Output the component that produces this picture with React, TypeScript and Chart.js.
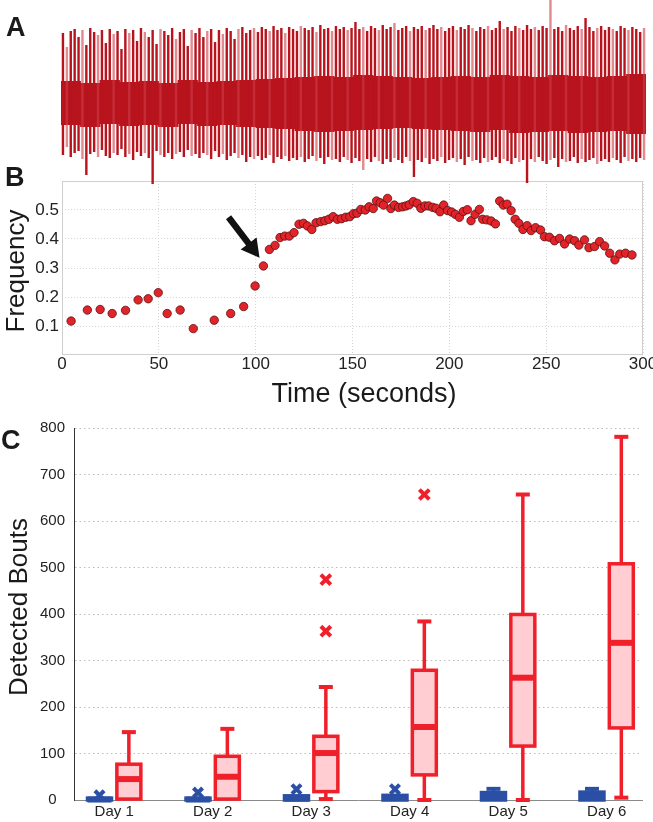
import React, { useEffect, useRef } from "react";
import { Chart, registerables } from "chart.js";
Chart.register(...registerables);

const FONT = "'Liberation Sans', Arial, Helvetica, sans-serif";

// ---------- Panel A: raw trace (spike extents and baseline band, arbitrary units) ----------
const spikeTop = [
  74, 60, 76, 78, 70, 77, 62, 79, 75, 72,
  77, 64, 78, 73, 76, 58, 78, 74, 77, 66,
  79, 75, 70, 77, 63, 78, 76, 72, 79, 68,
  75, 78, 61, 77, 74, 79, 70, 76, 78, 65,
  77, 73, 79, 76, 68, 78, 80, 74, 77, 79,
  75, 80, 78, 76, 81, 77, 79, 74, 80, 78,
  76, 81, 79, 77, 80, 75, 82, 78, 79, 76,
  81, 78, 80, 77, 79, 85, 78, 80, 76, 81,
  79, 77, 82, 78, 80, 84, 77, 79, 81, 76,
  80, 78, 81, 77, 79, 82, 78, 80, 76, 79,
  81, 77, 80, 78, 82, 79, 76, 80, 78, 81,
  77, 79, 86, 78, 80, 76, 81, 79, 77, 82,
  78, 80, 77, 81, 79, 107, 78, 80, 76, 82,
  79, 77, 81, 78, 89, 80, 76, 79, 81, 77,
  80, 78, 76, 81, 79, 77, 80, 78, 75, 79,
];
const spikeBottom = [
  -48, -40, -50, -46, -44, -52, -68, -47, -45, -50,
  -43, -49, -51, -46, -48, -42, -50, -47, -53, -45,
  -49, -46, -51, -77, -44, -48, -50, -46, -52, -47,
  -45, -50, -43, -49, -47, -51, -46, -48, -52, -44,
  -50, -47, -53, -49, -46, -51, -48, -55, -50, -52,
  -49, -53, -51, -48, -56, -50, -52, -49, -54, -51,
  -53, -50, -55, -52, -49, -54, -51, -57, -50, -53,
  -52, -55, -50, -53, -56, -51, -54, -63, -52, -55,
  -50, -54, -57, -52, -55, -51, -53, -56, -50, -54,
  -70, -53, -55, -51, -57, -52, -54, -50, -56, -53,
  -51, -55, -52, -58, -50, -54, -53, -56, -51, -55,
  -53, -50, -56, -52, -54, -57, -51, -55, -53, -76,
  -52, -55, -50, -54, -57, -53, -51, -60, -52, -55,
  -54, -50, -56, -52, -55, -53, -51, -57, -54, -52,
  -55, -51, -53, -56, -50, -54, -52, -55, -51, -53,
];
const coreTop = [
  26, 24, 27, 25, 26, 24, 27, 25, 26, 27,
  28, 29, 30, 31, 30, 32, 31, 30, 29, 30,
  31, 30, 32, 31, 30, 32, 31, 30, 31, 33,
];
const coreBottom = [
  -18, -20, -17, -19, -18, -20, -17, -19, -18, -20,
  -21, -22, -24, -25, -24, -23, -22, -21, -22, -23,
  -24, -25, -23, -26, -25, -24, -26, -25, -24, -27,
];
const traceMin = -83;
const traceMax = 107;

// ---------- Panel B: burst frequency over time ----------
const timeSec = [
  4.7, 13.1, 19.7, 25.9, 32.8, 39.3, 44.5, 49.7, 54.3, 61.0,
  67.8, 78.6, 87.1, 93.8, 99.7, 104.0, 107.1, 110.0, 112.6, 115.0,
  117.4, 119.8, 122.4, 124.7, 126.7, 129.0, 131.2, 133.6, 135.7, 137.8,
  140.0, 142.2, 144.3, 146.5, 148.6, 150.5, 152.3, 154.3, 156.6, 158.6,
  160.7, 162.4, 164.3, 166.0, 168.1, 169.8, 171.6, 173.8, 175.9, 177.6,
  179.3, 181.4, 183.4, 185.3, 187.4, 189.3, 191.4, 193.1, 195.2, 197.1,
  199.1, 201.2, 203.1, 205.2, 207.2, 209.3, 211.2, 213.3, 215.5, 217.2,
  219.3, 221.6, 223.8, 226.0, 227.9, 229.8, 231.9, 234.0, 235.9, 238.0,
  240.2, 242.2, 244.5, 247.1, 249.1, 251.7, 254.3, 256.9, 259.5, 262.1,
  264.7, 266.9, 269.8, 272.1, 275.0, 277.6, 280.2, 282.8, 285.5, 288.0,
  291.0, 294.3,
];
const frequency = [
  0.117, 0.155, 0.157, 0.143, 0.154, 0.190, 0.194, 0.215, 0.143, 0.155,
  0.091, 0.120, 0.143, 0.167, 0.238, 0.307, 0.364, 0.378, 0.405, 0.410,
  0.410, 0.422, 0.451, 0.454, 0.445, 0.433, 0.456, 0.460, 0.463, 0.468,
  0.477, 0.468, 0.470, 0.475, 0.477, 0.487, 0.489, 0.502, 0.500, 0.511,
  0.505, 0.531, 0.525, 0.517, 0.540, 0.505, 0.517, 0.509, 0.511, 0.514,
  0.518, 0.529, 0.523, 0.506, 0.514, 0.514, 0.509, 0.506, 0.494, 0.517,
  0.498, 0.493, 0.485, 0.475, 0.495, 0.501, 0.463, 0.485, 0.502, 0.468,
  0.466, 0.462, 0.452, 0.531, 0.517, 0.520, 0.498, 0.468, 0.454, 0.433,
  0.446, 0.429, 0.439, 0.431, 0.408, 0.406, 0.394, 0.402, 0.383, 0.400,
  0.394, 0.379, 0.397, 0.370, 0.374, 0.391, 0.376, 0.351, 0.328, 0.348,
  0.351, 0.345,
];
const timeTicks = [0, 50, 100, 150, 200, 250, 300];
const freqTicks = [0.1, 0.2, 0.3, 0.4, 0.5];
const arrowFrom = [86, 0.475];
const arrowTo = [102, 0.335];

// ---------- Panel C: detected bouts per day ----------
const days = ["Day 1", "Day 2", "Day 3", "Day 4", "Day 5", "Day 6"];
const dayPos = [1, 2, 3, 4, 5, 6];
const redMin = [2, 2, 2, 0, 0, 5];
const redQ1 = [2, 2, 18, 54, 116, 155];
const redMed = [45, 50, 101, 157, 263, 338];
const redQ3 = [77, 94, 137, 279, 399, 508];
const redMax = [146, 153, 243, 384, 657, 781];
const redOutlierDay = [3, 3, 4];
const redOutlierVal = [363, 474, 657];
const blueMin = [0, 0, 0, 0, 0, 0];
const blueQ1 = [0, 0, 0, 0, 0, 0];
const blueMed = [1, 1, 3, 4, 5, 5];
const blueQ3 = [4, 4, 9, 10, 16, 17];
const blueMax = [4, 4, 9, 10, 24, 24];
const blueOutlierDay = [1, 2, 3, 4];
const blueOutlierVal = [10, 16, 23, 23];
const boutTicks = [0, 100, 200, 300, 400, 500, 600, 700, 800];

const TRACE_RED = "#b8141e";
const TRACE_LIGHT = "rgba(205, 60, 70, 0.6)";
const BOX_RED = "#f0202b";
const BOX_PINK = "#ffcdd2";
const BOX_BLUE = "#2a4fa5";
const SIDE = 0.149; // horizontal offset of the two groups around each day

const frameB = {
  id: "frameB",
  beforeDatasetsDraw(chart: any) {
    const { ctx, chartArea: a } = chart;
    ctx.save();
    ctx.strokeStyle = "#cfcfcf";
    ctx.lineWidth = 1;
    ctx.strokeRect(a.left + 0.5, a.top + 0.5, a.right - a.left - 1, a.bottom - a.top - 1);
    ctx.restore();
  },
};

const arrowB = {
  id: "arrowB",
  afterDatasetsDraw(chart: any) {
    const { ctx } = chart;
    const xs = chart.scales.x;
    const ys = chart.scales.y;
    const x1 = xs.getPixelForValue(arrowFrom[0]);
    const y1 = ys.getPixelForValue(arrowFrom[1]);
    const x2 = xs.getPixelForValue(arrowTo[0]);
    const y2 = ys.getPixelForValue(arrowTo[1]);
    const ang = Math.atan2(y2 - y1, x2 - x1);
    const headLen = 18;
    const headHalf = 10;
    const bx = x2 - headLen * Math.cos(ang);
    const by = y2 - headLen * Math.sin(ang);
    ctx.save();
    ctx.strokeStyle = "#111";
    ctx.fillStyle = "#111";
    ctx.lineWidth = 6.5;
    ctx.beginPath();
    ctx.moveTo(x1, y1);
    ctx.lineTo(bx + 2 * Math.cos(ang), by + 2 * Math.sin(ang));
    ctx.stroke();
    ctx.beginPath();
    ctx.moveTo(x2, y2);
    ctx.lineTo(bx + headHalf * Math.sin(ang), by - headHalf * Math.cos(ang));
    ctx.lineTo(bx - headHalf * Math.sin(ang), by + headHalf * Math.cos(ang));
    ctx.closePath();
    ctx.fill();
    ctx.restore();
  },
};

function drawBoxes(
  chart: any,
  offset: number,
  mins: number[],
  q1s: number[],
  meds: number[],
  q3s: number[],
  maxs: number[],
  stroke: string,
  fill: string,
  medColor: string
) {
  const { ctx } = chart;
  const xs = chart.scales.x;
  const ys = chart.scales.y;
  const half = 12;
  const cap = 7;
  ctx.save();
  ctx.strokeStyle = stroke;
  ctx.lineCap = "butt";
  dayPos.forEach((d, i) => {
    const cx = xs.getPixelForValue(d + offset);
    const yMin = ys.getPixelForValue(mins[i]);
    const yQ1 = ys.getPixelForValue(q1s[i]);
    const yMed = ys.getPixelForValue(meds[i]);
    const yQ3 = ys.getPixelForValue(q3s[i]);
    const yMax = ys.getPixelForValue(maxs[i]);
    ctx.lineWidth = 3.5;
    if (maxs[i] > q3s[i]) {
      ctx.beginPath();
      ctx.moveTo(cx, yQ3);
      ctx.lineTo(cx, yMax);
      ctx.stroke();
      ctx.lineWidth = 4;
      ctx.beginPath();
      ctx.moveTo(cx - cap, yMax);
      ctx.lineTo(cx + cap, yMax);
      ctx.stroke();
    }
    ctx.lineWidth = 3.5;
    if (mins[i] < q1s[i]) {
      ctx.beginPath();
      ctx.moveTo(cx, yQ1);
      ctx.lineTo(cx, yMin);
      ctx.stroke();
      ctx.lineWidth = 4;
      ctx.beginPath();
      ctx.moveTo(cx - cap, yMin);
      ctx.lineTo(cx + cap, yMin);
      ctx.stroke();
    }
    ctx.lineWidth = 3.5;
    ctx.fillStyle = fill;
    const top = Math.min(yQ3, yQ1 - 1);
    ctx.fillRect(cx - half, top, half * 2, yQ1 - top);
    ctx.strokeRect(cx - half, top, half * 2, yQ1 - top);
    ctx.strokeStyle = medColor;
    ctx.lineWidth = 6;
    ctx.beginPath();
    ctx.moveTo(cx - half, yMed);
    ctx.lineTo(cx + half, yMed);
    ctx.stroke();
    ctx.strokeStyle = stroke;
  });
  ctx.restore();
}

const boxPlugin = {
  id: "boxPlugin",
  beforeDatasetsDraw(chart: any) {
    drawBoxes(chart, -SIDE, blueMin, blueQ1, blueMed, blueQ3, blueMax, BOX_BLUE, BOX_BLUE, BOX_BLUE);
    drawBoxes(chart, SIDE, redMin, redQ1, redMed, redQ3, redMax, BOX_RED, BOX_PINK, BOX_RED);
  },
};

export default function App() {
  const refA = useRef<HTMLCanvasElement>(null);
  const refB = useRef<HTMLCanvasElement>(null);
  const refC = useRef<HTMLCanvasElement>(null);

  useEffect(() => {
    const charts: Chart[] = [];

    // Panel A
    charts.push(
      new Chart(refA.current as HTMLCanvasElement, {
        type: "bar",
        data: {
          labels: spikeTop.map((_, i) => String(i)),
          datasets: [
            {
              data: spikeTop.map((t, i) => [spikeBottom[i], t]) as any,
              backgroundColor: spikeTop.map((_, i) => (i % 4 === 1 ? TRACE_LIGHT : TRACE_RED)),
              barPercentage: 0.62,
              categoryPercentage: 1,
              grouped: false,
              xAxisID: "x",
            } as any,
            {
              data: coreTop.map((t, i) => [coreBottom[i], t]) as any,
              backgroundColor: TRACE_RED,
              barPercentage: 1.04,
              categoryPercentage: 1,
              grouped: false,
              xAxisID: "x2",
            } as any,
          ],
        },
        options: {
          animation: false,
          responsive: false,
          maintainAspectRatio: false,
          layout: { padding: { left: 61, right: 7, top: 0, bottom: 0 } },
          plugins: { legend: { display: false }, tooltip: { enabled: false } },
          scales: {
            x: { type: "category", display: false },
            x2: { type: "category", display: false, labels: coreTop.map((_, i) => String(i)) } as any,
            y: { display: false, min: traceMin, max: traceMax },
          },
        },
      })
    );

    // Panel B
    charts.push(
      new Chart(refB.current as HTMLCanvasElement, {
        type: "scatter",
        data: {
          datasets: [
            {
              data: timeSec.map((t, i) => ({ x: t, y: frequency[i] })),
              backgroundColor: "#e3232a",
              borderColor: "#5a1212",
              borderWidth: 0.8,
              pointRadius: 4.2,
            },
          ],
        },
        options: {
          animation: false,
          responsive: false,
          maintainAspectRatio: false,
          layout: { padding: { left: 0, right: 10, top: 16, bottom: 0 } },
          plugins: { legend: { display: false }, tooltip: { enabled: false } },
          scales: {
            x: {
              type: "linear",
              min: 0,
              max: 300,
              afterBuildTicks: (s: any) => {
                s.ticks = timeTicks.map((v) => ({ value: v }));
              },
              afterFit: (s: any) => {
                s.height = 35;
                s.paddingLeft = 0;
                s.paddingRight = 0;
              },
              grid: { color: "#d6d6d6", lineWidth: 1, drawTicks: false },
              border: { display: false, dash: [1, 2] },
              ticks: {
                font: { family: FONT, size: 17, lineHeight: 1 },
                color: "#222",
                padding: 1,
                maxRotation: 0,
                autoSkip: false,
              },
            },
            y: {
              type: "linear",
              min: 0,
              max: 0.6,
              afterBuildTicks: (s: any) => {
                s.ticks = freqTicks.map((v) => ({ value: v }));
              },
              afterFit: (s: any) => {
                s.width = 62;
                s.paddingTop = 0;
                s.paddingBottom = 0;
              },
              grid: { color: "#d6d6d6", lineWidth: 1, drawTicks: false },
              border: { display: false, dash: [1, 2] },
              ticks: {
                font: { family: FONT, size: 17, lineHeight: 1 },
                color: "#222",
                padding: 3,
                callback: (v: any) => Number(v).toFixed(1),
              },
            },
          },
        },
        plugins: [frameB, arrowB],
      })
    );

    // Panel C
    charts.push(
      new Chart(refC.current as HTMLCanvasElement, {
        type: "scatter",
        data: {
          datasets: [
            {
              data: redOutlierDay.map((d, i) => ({ x: d + SIDE, y: redOutlierVal[i] })),
              pointStyle: "crossRot",
              pointRadius: 7,
              borderWidth: 4,
              borderColor: BOX_RED,
              backgroundColor: BOX_RED,
            },
            {
              data: blueOutlierDay.map((d, i) => ({ x: d - SIDE, y: blueOutlierVal[i] })),
              pointStyle: "crossRot",
              pointRadius: 6.5,
              borderWidth: 4,
              borderColor: BOX_BLUE,
              backgroundColor: BOX_BLUE,
            },
          ],
        },
        options: {
          animation: false,
          responsive: false,
          maintainAspectRatio: false,
          layout: { padding: { left: 0, right: 0, top: 28, bottom: 0 } },
          plugins: { legend: { display: false }, tooltip: { enabled: false } },
          scales: {
            x: {
              type: "linear",
              min: 0.592,
              max: 6.359,
              afterBuildTicks: (s: any) => {
                s.ticks = dayPos.map((v) => ({ value: v }));
              },
              afterFit: (s: any) => {
                s.height = 22;
                s.paddingLeft = 0;
                s.paddingRight = 0;
              },
              grid: { display: false, drawTicks: false },
              border: { display: true, color: "#8a8a8a", width: 1 },
              ticks: {
                font: { family: FONT, size: 15, lineHeight: 1 },
                color: "#222",
                padding: 4,
                maxRotation: 0,
                autoSkip: false,
                callback: (v: any) => days[Math.round(Number(v)) - 1],
              },
            },
            y: {
              type: "linear",
              min: 0,
              max: 800,
              afterBuildTicks: (s: any) => {
                s.ticks = boutTicks.map((v) => ({ value: v }));
              },
              afterFit: (s: any) => {
                s.width = 74;
                s.paddingTop = 0;
                s.paddingBottom = 0;
              },
              grid: {
                color: (c: any) => (c.tick && c.tick.value === 0 ? "rgba(0,0,0,0)" : "#bdbdbd"),
                lineWidth: 1,
                drawTicks: false,
              },
              border: { display: true, color: "#333", width: 1, dash: [1.5, 3] },
              ticks: {
                font: { family: FONT, size: 15, lineHeight: 1 },
                color: "#222",
                padding: 9,
                crossAlign: "center",
              },
            },
          },
        },
        plugins: [boxPlugin],
      })
    );

    return () => charts.forEach((c) => c.destroy());
  }, []);

  const letter = (t: string, left: number, top: number) => (
    <div
      style={{
        position: "absolute",
        left,
        top,
        fontFamily: FONT,
        fontWeight: "bold",
        fontSize: 27,
        lineHeight: "27px",
        color: "#1a1a1a",
      }}
    >
      {t}
    </div>
  );

  const vTitle = (t: string, cx: number, cy: number) => (
    <div
      style={{
        position: "absolute",
        left: cx,
        top: cy,
        transform: "translate(-50%, -50%) rotate(-90deg)",
        fontFamily: FONT,
        fontSize: 26,
        lineHeight: "26px",
        whiteSpace: "nowrap",
        color: "#1a1a1a",
      }}
    >
      {t}
    </div>
  );

  return (
    <div
      style={{
        position: "absolute",
        left: 0,
        top: 0,
        width: 653,
        height: 822,
        background: "#fff",
        overflow: "hidden",
      }}
    >
      <canvas
        ref={refB}
        width={653}
        height={225}
        style={{ position: "absolute", left: 0, top: 165, width: 653, height: 225 }}
      />
      <canvas
        ref={refC}
        width={653}
        height={422}
        style={{ position: "absolute", left: 0, top: 400, width: 653, height: 422 }}
      />
      <canvas
        ref={refA}
        width={653}
        height={190}
        style={{ position: "absolute", left: 0, top: 0, width: 653, height: 190 }}
      />
      {letter("A", 6, 14)}
      {letter("B", 5, 164)}
      {letter("C", 1, 427)}
      {vTitle("Frequency", 15, 271)}
      {vTitle("Detected Bouts", 18, 607)}
      <div
        style={{
          position: "absolute",
          left: 0,
          width: 728,
          top: 380,
          textAlign: "center",
          fontFamily: FONT,
          fontSize: 27,
          lineHeight: "27px",
          whiteSpace: "nowrap",
          color: "#1a1a1a",
        }}
      >
        Time (seconds)
      </div>
    </div>
  );
}
